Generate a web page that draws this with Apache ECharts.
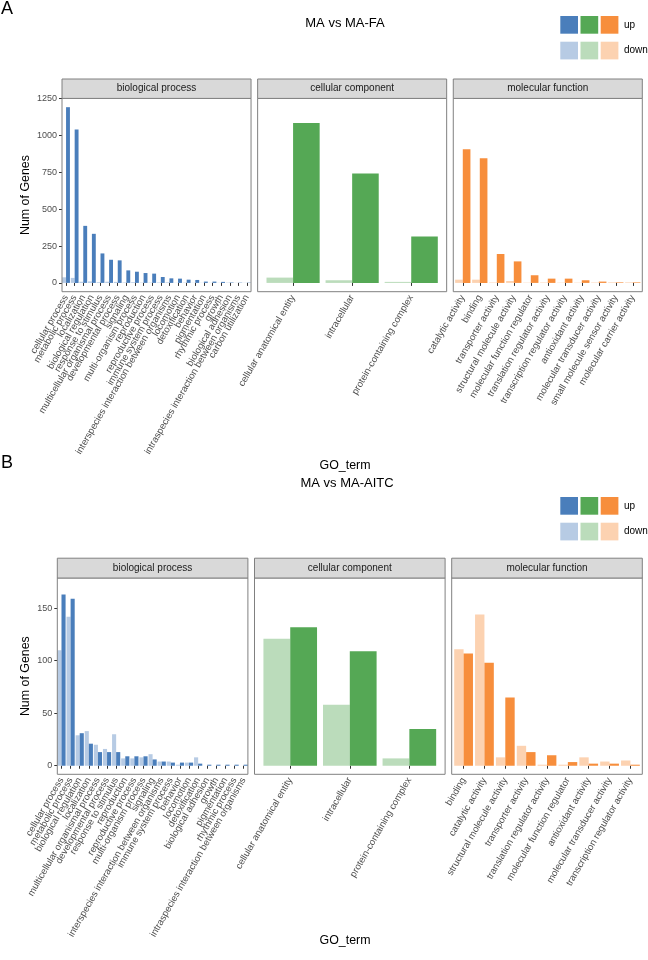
<!DOCTYPE html>
<html><head><meta charset="utf-8">
<script src="https://cdn.jsdelivr.net/npm/echarts@6/dist/echarts.min.js"></script>
<style>html,body{margin:0;padding:0;background:#fff}#c{width:648px;height:960px}</style>
</head><body><div id="c"></div>
<script>
// ---------- DATA ----------
const facetNames = ['biological process', 'cellular component', 'molecular function'];

// Figure A : MA vs MA-FA
const aBioCats = ['cellular process','metabolic process','localization','biological regulation','response to stimulus','multicellular organismal process','developmental process','signaling','multi-organism process','reproduction','reproductive process','immune system process','interspecies interaction between organisms','locomotion','detoxification','behavior','pigmentation','rhythmic process','growth','biological adhesion','intraspecies interaction between organisms','carbon utilization'];
const aBioUp   = [1192,1040,387,333,200,157,153,85,76,67,63,40,31,29,22,20,9,9,7,3,2,2];
const aBioDown = [38,34,8,10,5,8,7,3,5,2,2,3,4,1,2,1,1,1,1,2,1,1];
const aCelCats = ['cellular anatomical entity','intracellular','protein-containing complex'];
const aCelUp   = [1085,742,315];
const aCelDown = [36,18,7];
const aMolCats = ['catalytic activity','binding','transporter activity','structural molecule activity','molecular function regulator','translation regulator activity','transcription regulator activity','antioxidant activity','molecular transducer activity','small molecule sensor activity','molecular carrier activity'];
const aMolUp   = [906,845,196,146,52,29,29,18,9,4,4];
const aMolDown = [22,22,3,13,2,3,2,2,3,4,4];
const yTicksA  = [0,250,500,750,1000,1250];

// Figure B : MA vs MA-AITC
const bBioCats = ['cellular process','metabolic process','biological regulation','localization','multicellular organismal process','developmental process','response to stimulus','reproduction','reproductive process','multi-organism process','signaling','interspecies interaction between organisms','immune system process','behavior','locomotion','detoxification','biological adhesion','growth','pigmentation','rhythmic process','intraspecies interaction between organisms'];
const bBioUp   = [163,159,31,21,13,13,13,9,9,9,6,4,3,3,3,2,1,1,1,1,1];
const bBioDown = [110,142,29,33,20,16,30,7,7,8,11,4,4,1,3,8,0,0,0,0,0];
const bCelCats = ['cellular anatomical entity','intracellular','protein-containing complex'];
const bCelUp   = [132,109,35];
const bCelDown = [121,58,7];
const bMolCats = ['binding','catalytic activity','structural molecule activity','transporter activity','translation regulator activity','molecular function regulator','antioxidant activity','molecular transducer activity','transcription regulator activity'];
const bMolUp   = [107,98,65,13,10,3.5,2,2,1];
const bMolDown = [111,144,8,19,1,1,8,4,5];
const yTicksB  = [0,50,100,150];

const upLabel = 'up', downLabel = 'down';

// ---------- STYLE / LAYOUT ----------
const upCol   = ['#4A7EBB','#55A855','#F78E3C'];
const downCol = ['#B7CBE4','#BBDCBB','#FCD2B1'];
const FONT = 'Liberation Sans, Arial, sans-serif';
const borderCol = '#808080';

const layoutA = {x0:62, x1:642.3, gap:6.6, top:98.4, bottom:291.7, stripH:19.4, margins:[0.47,0.6,0.56], topExp:1.05,
  letter:{x:1,y:0,t:'A'}, title:{x:345,y:23,t:'MA vs MA-FA'}, legY:16, ytitle:{x:25.5}, xtitle:{x:345,y:466}};
const layoutB = {x0:57.3, x1:642.3, gap:6.6, top:578, bottom:774.3, stripH:19.8, margins:[0.46,0.6,0.57], topExp:1.097,
  letter:{x:1,y:454,t:'B'}, title:{x:347,y:483,t:'MA vs MA-AITC'}, legY:497, ytitle:{x:25.5}, xtitle:{x:345,y:941}};

const figs = [
  {cats:[aBioCats,aCelCats,aMolCats], up:[aBioUp,aCelUp,aMolUp], down:[aBioDown,aCelDown,aMolDown], ticks:yTicksA, L:layoutA},
  {cats:[bBioCats,bCelCats,bMolCats], up:[bBioUp,bCelUp,bMolUp], down:[bBioDown,bCelDown,bMolDown], ticks:yTicksB, L:layoutB}
];

const grids=[], xAxes=[], yAxes=[], series=[], elements=[];

figs.forEach(F => {
  const L = F.L;
  const all = [].concat(...F.up, ...F.down);
  const mx = Math.max(...all);
  const ymin = -0.05*mx, ymax = L.topExp*mx;
  const pw = (L.x1 - L.x0 - 2*L.gap)/3;
  const ph = L.bottom - L.top;
  for (let k=0;k<3;k++){
    const px0 = L.x0 + k*(pw+L.gap);
    const n = F.cats[k].length, m = L.margins[k];
    const u = pw/(n-1+2*m);
    const gw = n*u, inset = (pw-gw)/2;
    const gi = grids.length;
    grids.push({left:px0+inset, width:gw, top:L.top, height:ph, containLabel:false});
    xAxes.push({type:'category', gridIndex:gi, data:F.cats[k], boundaryGap:true,
      axisLine:{show:false}, splitLine:{show:false},
      axisTick:{show:true, alignWithLabel:true, length:3, lineStyle:{color:'#333', width:1}},
      axisLabel:{interval:0, rotate:60, margin:4, fontSize:9.5, color:'#4D4D4D', fontFamily:FONT}});
    yAxes.push({type:'value', gridIndex:gi, min:ymin, max:ymax, offset:inset,
      axisLine:{show:false}, splitLine:{show:false},
      axisTick:{show:k===0, length:3, customValues:F.ticks, lineStyle:{color:'#333', width:1}},
      axisLabel:{show:k===0, customValues:F.ticks, margin:5, fontSize:9, color:'#4D4D4D', fontFamily:FONT,
        formatter: v => String(v)}});
    series.push({type:'bar', name:downLabel, xAxisIndex:gi, yAxisIndex:gi, data:F.down[k],
      itemStyle:{color:downCol[k]}, barGap:'0%', barCategoryGap:'10%'});
    series.push({type:'bar', name:upLabel, xAxisIndex:gi, yAxisIndex:gi, data:F.up[k],
      itemStyle:{color:upCol[k]}, barGap:'0%', barCategoryGap:'10%'});
    elements.push({type:'rect', z:100, shape:{x:px0, y:L.top, width:pw, height:ph},
      style:{fill:'none', stroke:borderCol, lineWidth:1}});
    elements.push({type:'rect', z:100, shape:{x:px0, y:L.top-L.stripH, width:pw, height:L.stripH},
      style:{fill:'#D9D9D9', stroke:borderCol, lineWidth:1}});
    elements.push({type:'text', z:101, x:px0+pw/2, y:L.top-L.stripH/2,
      style:{text:facetNames[k], fill:'#1A1A1A', font:'10px '+FONT, align:'center', verticalAlign:'middle', textAlign:'center', textVerticalAlign:'middle'}});
  }
  elements.push({type:'text', x:L.letter.x, y:L.letter.y,
    style:{text:L.letter.t, fill:'#000', font:'18px '+FONT, align:'left', verticalAlign:'top', textAlign:'left', textVerticalAlign:'top'}});
  elements.push({type:'text', x:L.title.x, y:L.title.y,
    style:{text:L.title.t, fill:'#000', font:'13px '+FONT, align:'center', verticalAlign:'middle', textAlign:'center', textVerticalAlign:'middle'}});
  const sq = 17.7, lx = [560.3, 580.5, 600.7];
  for (let k=0;k<3;k++){
    elements.push({type:'rect', shape:{x:lx[k], y:L.legY, width:sq, height:sq}, style:{fill:upCol[k]}});
    elements.push({type:'rect', shape:{x:lx[k], y:L.legY+25.7, width:sq, height:sq}, style:{fill:downCol[k]}});
  }
  elements.push({type:'text', x:624, y:L.legY+sq/2,
    style:{text:upLabel, fill:'#000', font:'10px '+FONT, align:'left', verticalAlign:'middle', textAlign:'left', textVerticalAlign:'middle'}});
  elements.push({type:'text', x:624, y:L.legY+25.7+sq/2,
    style:{text:downLabel, fill:'#000', font:'10px '+FONT, align:'left', verticalAlign:'middle', textAlign:'left', textVerticalAlign:'middle'}});
  elements.push({type:'text', x:L.ytitle.x, y:(L.top+L.bottom)/2, rotation:Math.PI/2,
    style:{text:'Num of Genes', fill:'#000', font:'12.4px '+FONT, align:'center', verticalAlign:'middle', textAlign:'center', textVerticalAlign:'middle'}});
  elements.push({type:'text', x:L.xtitle.x, y:L.xtitle.y,
    style:{text:'GO_term', fill:'#000', font:'12.4px '+FONT, align:'center', verticalAlign:'middle', textAlign:'center', textVerticalAlign:'middle'}});
});

const chart = echarts.init(document.getElementById('c'), null, {renderer:'canvas'});
chart.setOption({
  animation:false,
  backgroundColor:'#fff',
  grid:grids, xAxis:xAxes, yAxis:yAxes, series:series,
  graphic:{elements:elements}
});
</script>
</body></html>
